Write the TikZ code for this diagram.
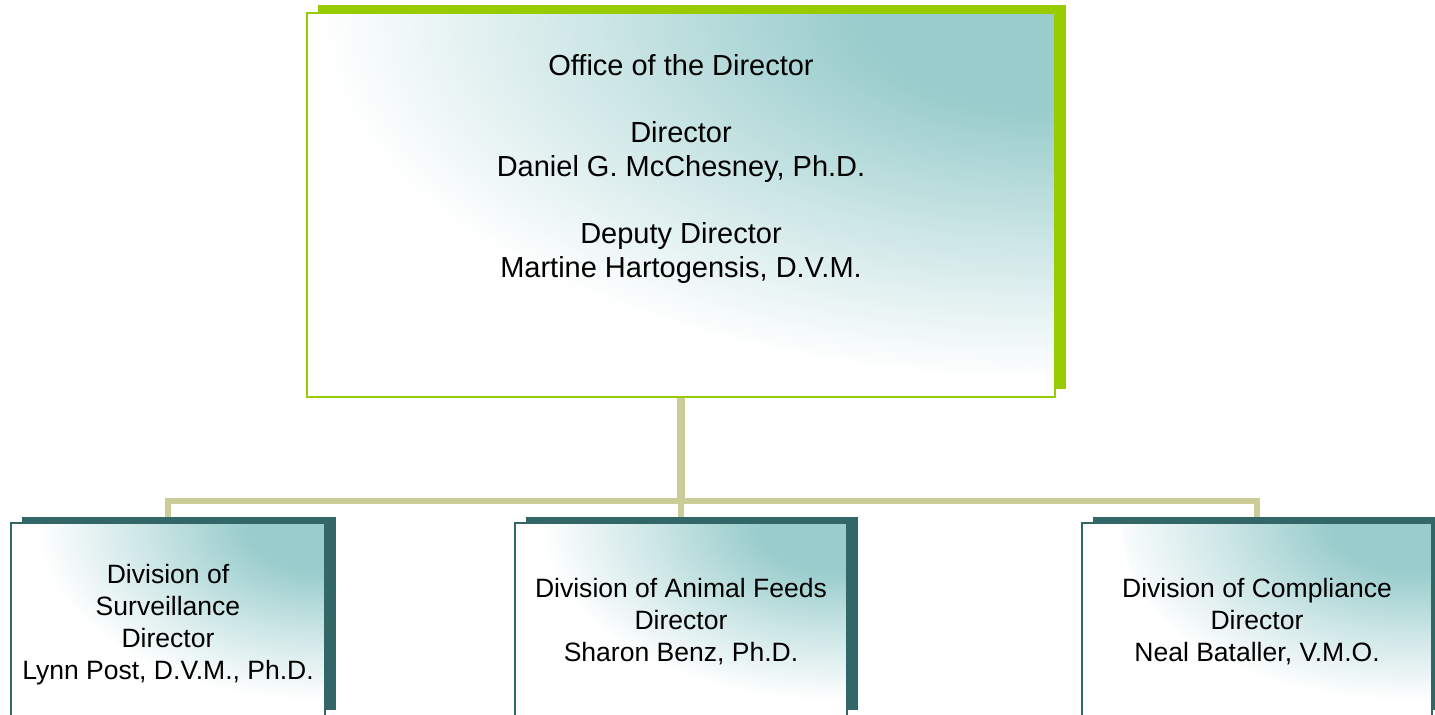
\documentclass[tikz,border=0pt]{standalone}
\usepackage{fontspec}
\setmainfont{Liberation Sans}
\usepackage{tikz}
\usetikzlibrary{shadows,backgrounds}

\definecolor{leafgreen}{RGB}{153,204,0}
\definecolor{slateteal}{RGB}{51,102,102}
\definecolor{paleteal}{RGB}{153,204,204}
\definecolor{mistteal}{RGB}{209,232,232}
\definecolor{busline}{RGB}{204,204,153}

% teal glow from the upper right corner
\pgfdeclareradialshading{boxglow}{\pgfpoint{0bp}{0bp}}{color(0bp)=(paleteal); color(6bp)=(paleteal); color(15bp)=(mistteal); color(23bp)=(white); color(25bp)=(white)}

\tikzset{
  glow/.style 2 args={path picture={
      \shade[shading=boxglow] (path picture bounding box.north east)
        ellipse[x radius=#1, y radius=#2];}},
  officebox/.style={draw=leafgreen, line width=1.4pt, fill=white, inner sep=0pt,
      drop shadow={fill=leafgreen, opacity=1, shadow xshift=6.2pt, shadow yshift=4.5pt},
      glow={16cm}{8cm}},
  divbox/.style={draw=slateteal, line width=1.2pt, fill=white, inner sep=0pt,
      minimum height=3.86cm,
      drop shadow={fill=slateteal, opacity=1, shadow xshift=6.2pt, shadow yshift=3.4pt},
      glow={6.2cm}{3.8cm}},
  headtext/.style={align=center, font=\fontsize{16.5}{19.35}\selectfont},
  divtext/.style={align=center, font=\fontsize{15.1}{18.2}\selectfont},
  bus/.style={draw=busline, line width=3.4pt},
  trunk/.style={draw=busline, line width=4.6pt}
}

\begin{document}
\begin{tikzpicture}[x=0.02cm, y=-0.02cm]
    \useasboundingbox (0,0) rectangle (1435,715);
    \clip (0,0) rectangle (1435,715);

    % Office of the Director
    \node[officebox, minimum width=14.96cm, minimum height=7.68cm] (office) at (681,205) {};
    \node[headtext] (officetext) at (681,169)
        {Office of the Director\\[19pt]Director\\Daniel G. McChesney, Ph.D.\\[19pt]Deputy Director\\Martine Hartogensis, D.V.M.};

    % Divisions
    \node[divbox, minimum width=6.28cm] (surv) at (168,619.5) {};
    \node[divtext] (survtext) at (168,625) {Division of\\Surveillance\\Director\\Lynn Post, D.V.M., Ph.D.};

    \node[divbox, minimum width=6.64cm] (feeds) at (681,619.5) {};
    \node[divtext] (feedstext) at (681,622) {Division of Animal Feeds\\Director\\Sharon Benz, Ph.D.};

    \node[divbox, minimum width=7cm] (comp) at (1257,619.5) {};
    \node[divtext] (comptext) at (1257,622) {Division of Compliance\\Director\\Neal Bataller, V.M.O.};

    % Connectors
    \coordinate (hub) at (681,501);
    \begin{scope}[on background layer]
        \draw[trunk] (office.south) -- (hub);
        \draw[bus] (surv.north) |- (hub) -| (comp.north);
        \draw[bus] (hub) -- (feeds.north);
    \end{scope}

\end{tikzpicture}
\end{document}
